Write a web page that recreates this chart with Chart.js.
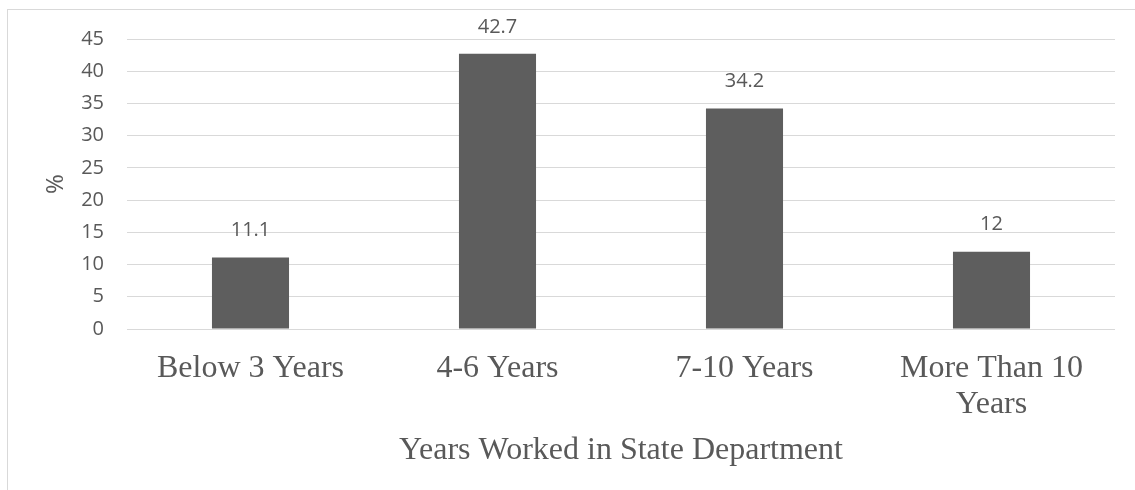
<!DOCTYPE html>
<html>
<head>
<meta charset="utf-8">
<script src="https://cdn.jsdelivr.net/npm/chart.js@4/dist/chart.umd.min.js"></script>
<style>
  html, body { margin: 0; padding: 0; background: #ffffff; }
  #wrap { width: 1135px; height: 490px; position: relative; }
</style>
</head>
<body>
<div id="wrap"><canvas id="chart" width="1135" height="490"></canvas></div>
<script>
// Share of respondents by years worked in the state department
const categories = ['Below 3 Years', '4-6 Years', '7-10 Years', ['More Than 10', 'Years']];
const percentages = [11.1, 42.7, 34.2, 12];
const yTicks = [0, 5, 10, 15, 20, 25, 30, 35, 40, 45];

const TEXT = '#595959';
const GRID = '#d9d9d9';
const BAR = '#5e5e5e';

// light frame around the chart
const framePlugin = {
  id: 'frame',
  beforeDraw(chart) {
    const ctx = chart.ctx;
    ctx.save();
    ctx.fillStyle = '#ffffff';
    ctx.fillRect(0, 0, chart.width, chart.height);
    ctx.strokeStyle = GRID;
    ctx.lineWidth = 1;
    ctx.strokeRect(7.5, 9.5, chart.width + 20, chart.height + 20);
    ctx.restore();
  }
};

// value written above each bar
const valueLabels = {
  id: 'valueLabels',
  afterDatasetsDraw(chart) {
    const ctx = chart.ctx;
    const meta = chart.getDatasetMeta(0);
    ctx.save();
    ctx.font = '20px "Open Sans"';
    ctx.fillStyle = TEXT;
    ctx.textAlign = 'center';
    ctx.textBaseline = 'middle';
    meta.data.forEach((bar, i) => {
      ctx.fillText(String(chart.data.datasets[0].data[i]), bar.x, bar.y - 27);
    });
    ctx.restore();
  }
};

new Chart(document.getElementById('chart'), {
  type: 'bar',
  data: {
    labels: categories,
    datasets: [{
      data: percentages,
      backgroundColor: BAR,
      borderWidth: 0,
      categoryPercentage: 1,
      barPercentage: 0.312
    }]
  },
  options: {
    responsive: false,
    animation: false,
    devicePixelRatio: 1,
    layout: { padding: { left: 42, right: 20, top: 39, bottom: 0 } },
    plugins: {
      legend: { display: false },
      tooltip: { enabled: false }
    },
    scales: {
      x: {
        grid: { display: false, drawTicks: false },
        border: { display: false },
        ticks: {
          color: TEXT,
          padding: 22,
          maxRotation: 0,
          autoSkip: false,
          font: { family: '"Liberation Serif", "Times New Roman", serif', size: 32, lineHeight: 1.11 }
        },
        title: {
          display: true,
          text: 'Years Worked in State Department',
          color: TEXT,
          padding: { top: 0, bottom: 20 },
          font: { family: '"Liberation Serif", "Times New Roman", serif', size: 32, lineHeight: 1.2 }
        },
        afterFit(scale) { scale.height = 161; }
      },
      y: {
        min: 0,
        max: 45,
        afterBuildTicks(scale) { scale.ticks = yTicks.map(v => ({ value: v })); },
        grid: { color: GRID, lineWidth: 1, drawTicks: false },
        border: { display: false },
        ticks: {
          color: TEXT,
          padding: 23,
          font: { family: '"Open Sans"', size: 20 }
        },
        title: {
          display: true,
          text: '%',
          color: TEXT,
          padding: { top: 0, bottom: 0 },
          font: { family: '"Open Sans"', size: 24, lineHeight: 1.2 }
        },
        afterFit(scale) { scale.width = 85; }
      }
    }
  },
  plugins: [framePlugin, valueLabels]
});
</script>
</body>
</html>
